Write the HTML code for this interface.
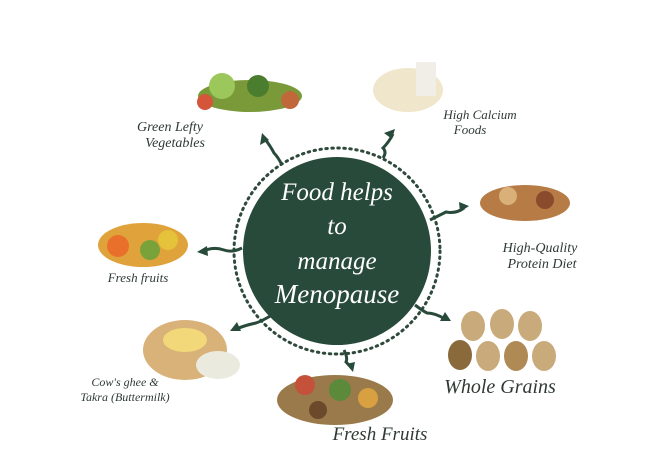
<!DOCTYPE html>
<html><head><meta charset="utf-8"><style>
body{margin:0;background:#fff;}
.t{font-family:"Liberation Serif",serif;font-style:italic;fill:#2f3a34;}
</style></head><body>
<svg width="672" height="455" viewBox="0 0 672 455" xmlns="http://www.w3.org/2000/svg">
<rect width="672" height="455" fill="#fff"/>
<circle cx="337" cy="251" r="103" fill="none" stroke="#2f4a3c" stroke-width="3" stroke-dasharray="1.5 4.5" stroke-linecap="round"/>
<circle cx="337" cy="251" r="94" fill="#284a3a"/>
<g fill="#fff" font-family="Liberation Serif,serif" font-style="italic" text-anchor="middle">
<text x="337" y="200" font-size="25">Food helps</text>
<text x="337" y="234" font-size="25">to</text>
<text x="337" y="269" font-size="25">manage</text>
<text x="337" y="303" font-size="27">Menopause</text>
</g>
<g stroke="#284a3a" stroke-width="3" fill="none">
<path d="M282 165 q-4-8 -8-12 q-3-6 -9-14"/>
<path d="M383 158 q4-6 0-10 q6-6 10-14"/>
<path d="M430 220 q12-6 16-8 q10 2 18-4"/>
<path d="M242 248 q-10 5 -18 2 q-12-4 -22 2"/>
<path d="M272 315 q-10 6 -16 8 q-10 2 -20 6"/>
<path d="M415 305 q8 6 12 8 q8 0 18 6"/>
<path d="M344 350 q4 8 2 12 q4 4 6 6"/>
</g>
<g fill="#284a3a">
<path d="M262 133 l-2 12 l9-5z"/>
<path d="M395 129 l-11 4 l8 6z"/>
<path d="M469 206 l-10-4 l1 10z"/>
<path d="M197 252 l10-6 l1 10z"/>
<path d="M230 331 l7-9 l4 9z"/>
<path d="M451 321 l-11 0 l5-9z"/>
<path d="M353 372 l-7-8 l9-2z"/>
</g>
<!-- food placeholders -->
<g>
<ellipse cx="250" cy="96" rx="52" ry="16" fill="#7a9a3a"/>
<circle cx="222" cy="86" r="13" fill="#9cc75a"/><circle cx="258" cy="86" r="11" fill="#4b7d2e"/><circle cx="290" cy="100" r="9" fill="#c0683a"/><circle cx="205" cy="102" r="8" fill="#d4553a"/>
<ellipse cx="408" cy="90" rx="35" ry="22" fill="#efe6cc"/><rect x="416" y="62" width="20" height="34" fill="#f0eee6"/>
<ellipse cx="525" cy="203" rx="45" ry="18" fill="#b77b45"/><circle cx="508" cy="196" r="9" fill="#d8b078"/><circle cx="545" cy="200" r="9" fill="#8a4a2c"/>
<ellipse cx="143" cy="245" rx="45" ry="22" fill="#e0a23a"/><circle cx="118" cy="246" r="11" fill="#e8702a"/><circle cx="150" cy="250" r="10" fill="#7aa23a"/><circle cx="168" cy="240" r="10" fill="#e4c23a"/>
<ellipse cx="185" cy="350" rx="42" ry="30" fill="#d9b27a"/><ellipse cx="218" cy="365" rx="22" ry="14" fill="#eaeadf"/><ellipse cx="185" cy="340" rx="22" ry="12" fill="#f2d878"/>
<g fill="#c9aa7a"><ellipse cx="473" cy="326" rx="12" ry="15"/><ellipse cx="502" cy="324" rx="12" ry="15"/><ellipse cx="530" cy="326" rx="12" ry="15"/><ellipse cx="460" cy="355" rx="12" ry="15" fill="#8a6a3a"/><ellipse cx="488" cy="356" rx="12" ry="15"/><ellipse cx="516" cy="356" rx="12" ry="15" fill="#b08a55"/><ellipse cx="544" cy="356" rx="12" ry="15"/></g>
<ellipse cx="335" cy="400" rx="58" ry="25" fill="#9a7a4a"/><circle cx="305" cy="385" r="10" fill="#c4523a"/><circle cx="340" cy="390" r="11" fill="#5a8a3a"/><circle cx="368" cy="398" r="10" fill="#d8a040"/><circle cx="318" cy="410" r="9" fill="#6a4a2a"/>
</g>
<g class="t">
<text x="170" y="131" font-size="14" text-anchor="middle">Green Lefty</text>
<text x="175" y="147" font-size="14" text-anchor="middle">Vegetables</text>
<text x="480" y="119" font-size="13" text-anchor="middle">High Calcium</text>
<text x="470" y="134" font-size="13" text-anchor="middle">Foods</text>
<text x="540" y="252" font-size="14" text-anchor="middle">High-Quality</text>
<text x="542" y="268" font-size="14" text-anchor="middle">Protein Diet</text>
<text x="138" y="282" font-size="13" text-anchor="middle">Fresh fruits</text>
<text x="125" y="386" font-size="12" text-anchor="middle">Cow's ghee &amp;</text>
<text x="125" y="401" font-size="12" text-anchor="middle">Takra (Buttermilk)</text>
<text x="500" y="393" font-size="20" text-anchor="middle">Whole Grains</text>
<text x="380" y="440" font-size="19" text-anchor="middle">Fresh Fruits</text>
</g>
</svg>
</body></html>
